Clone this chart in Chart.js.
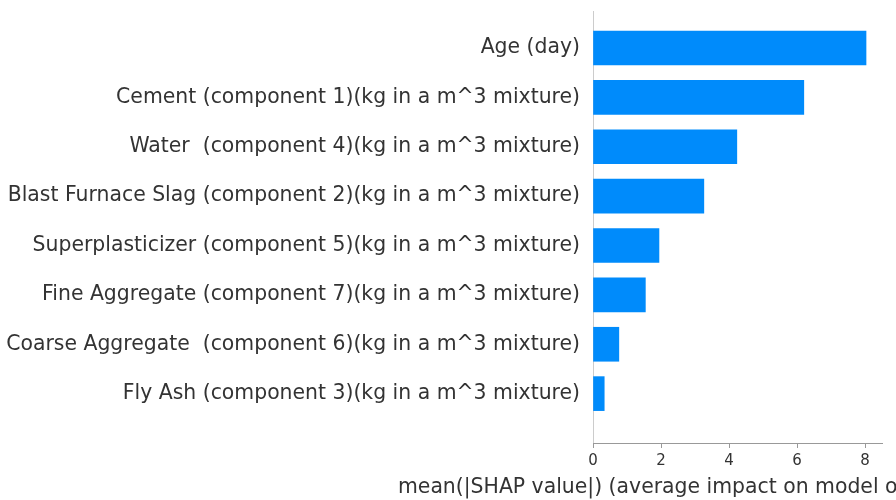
<!DOCTYPE html>
<html>
<head>
<meta charset="utf-8">
<script src="https://cdn.jsdelivr.net/npm/chart.js@4/dist/chart.umd.min.js"></script>
<style>
  html, body { margin: 0; padding: 0; background: #fff; }
  #wrap { width: 896px; height: 500px; }
</style>
</head>
<body>
<div id="wrap"><canvas id="shapChart" width="896" height="500"></canvas></div>
<script>
/* ── data (top to bottom, as drawn) ── */
const features = [
  'Age (day)',
  'Cement (component 1)(kg in a m^3 mixture)',
  'Water  (component 4)(kg in a m^3 mixture)',
  'Blast Furnace Slag (component 2)(kg in a m^3 mixture)',
  'Superplasticizer (component 5)(kg in a m^3 mixture)',
  'Fine Aggregate (component 7)(kg in a m^3 mixture)',
  'Coarse Aggregate  (component 6)(kg in a m^3 mixture)',
  'Fly Ash (component 3)(kg in a m^3 mixture)',
];
const meanShap   = [8.03, 6.2, 4.23, 3.26, 1.94, 1.54, 0.76, 0.33];
const xTicks     = [0, 2, 4, 6, 8];
const xTitle     = 'mean(|SHAP value|) (average impact on model output magnitude)';

const FONT = "'DejaVu Sans', sans-serif";
const TEXT = '#333333';
const n = features.length;

// bottom row sits at 0, top row at n-1 (like matplotlib barh)
const points = features.map((f, i) => ({ x: meanShap[i], y: n - 1 - i }));

/* ── x title drawn by hand so the long text runs off the canvas
      instead of being squeezed into the axis width ── */
const xTitlePlugin = {
  id: 'xTitle',
  afterDraw(chart) {
    const { ctx, scales: { x } } = chart;
    ctx.save();
    ctx.font = `20.4px ${FONT}`;
    ctx.fillStyle = TEXT;
    ctx.textAlign = 'center';
    ctx.textBaseline = 'alphabetic';
    ctx.fillText(xTitle, (x.left + x.right) / 2, 493);
    ctx.restore();
  },
};

new Chart(document.getElementById('shapChart'), {
  type: 'bar',
  data: {
    datasets: [{
      data: points,
      backgroundColor: '#008bfb',
      borderWidth: 0,
      barThickness: 34,
    }],
  },
  options: {
    indexAxis: 'y',
    responsive: false,
    animation: false,
    layout: { padding: { left: 0, top: 11, right: 14, bottom: 0 } },
    plugins: { legend: { display: false }, tooltip: { enabled: false } },
    scales: {
      y: {
        type: 'linear',
        offset: false,
        min: -1,
        max: n - 0.25,
        afterBuildTicks: (s) => { s.ticks = features.map((_, i) => ({ value: i })); },
        afterFit: (s) => {
          s.width = 593;
          s.paddingTop = 0;      // labels sit well inside the spine, no extra room needed
          s.paddingBottom = 0;
        },
        grid: { display: false, drawTicks: false },
        border: { display: true, color: '#cccccc', width: 1 },
        ticks: {
          padding: 13,
          color: TEXT,
          font: { family: FONT, size: 20.4 },
          callback: (v) => features[n - 1 - v],
        },
      },
      x: {
        type: 'linear',
        offset: false,
        min: 0,
        max: 8.5,
        afterBuildTicks: (s) => { s.ticks = xTicks.map((v) => ({ value: v })); },
        afterFit: (s) => { s.height = 57; },
        grid: { drawOnChartArea: false, drawTicks: true, tickLength: 5, tickColor: '#999999' },
        border: { display: true, color: '#999999', width: 1 },
        ticks: {
          padding: 4,
          color: TEXT,
          maxRotation: 0,
          font: { family: FONT, size: 15 },
        },
      },
    },
  },
  plugins: [xTitlePlugin],
});
</script>
</body>
</html>
